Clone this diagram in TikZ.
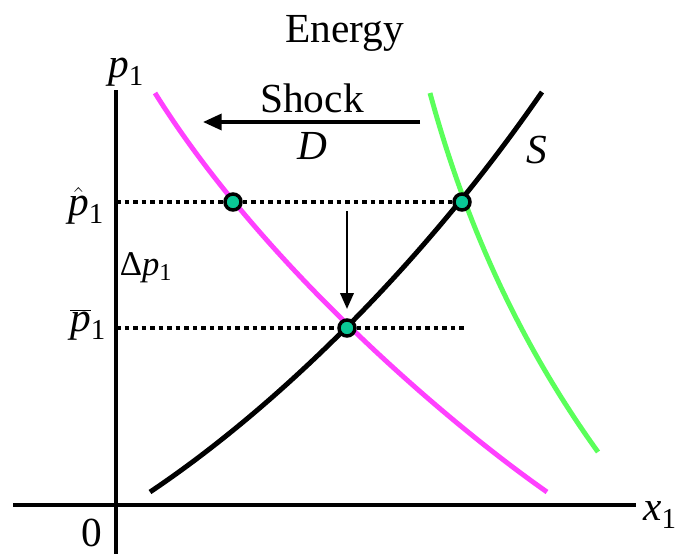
\documentclass[tikz,border=0pt]{standalone}
\usepackage{fontspec}
\setmainfont{Liberation Serif}
\usetikzlibrary{arrows.meta}
\definecolor{magc}{RGB}{255,64,255}
\definecolor{grnc}{RGB}{90,255,90}
\definecolor{dotc}{RGB}{10,200,150}
\newcommand{\ip}{\textit{p}}
\tikzset{
  axis/.style={line width=3pt},
  curve/.style={line width=3.7pt},
  guide/.style={line width=3pt, dash pattern=on 3.4pt off 3pt},
  eqdot/.style={circle, fill=dotc, draw=black, line width=2.6pt, minimum size=12pt, inner sep=0pt},
  lbl/.style={font=\fontsize{31}{36}\selectfont, inner sep=0pt},
  arr/.style={line width=2.6pt, -{Triangle[length=14pt,width=12pt]}},
  arrd/.style={line width=2pt, -{Triangle[length=12pt,width=10pt]}}
}
\begin{document}
\begin{tikzpicture}[x=0.75pt,y=-0.75pt]
\useasboundingbox (0,0) rectangle (676,554);
% axes
\coordinate (ytop) at (116,90);
\coordinate (ybot) at (116,554);
\coordinate (xl) at (13,505);
\coordinate (xr) at (636,505);
\draw[axis] (ytop) -- (ybot);
\draw[axis] (xl) -- (xr);
% curves
\draw[curve, magc] (155,93) .. controls (260,261) and (442,418.5) .. (547,492);
\draw[curve, grnc] (430,93) .. controls (462,211) and (513,334) .. (598,452);
\draw[curve, black] (150,492) .. controls (273,409.6) and (419,270) .. (542,92);
% equilibrium points
\node[eqdot] (e1) at (233,202) {};
\node[eqdot] (e2) at (462,202) {};
\node[eqdot] (e3) at (347,328) {};
\coordinate (a1) at (116,202);
\coordinate (a2) at (116,328);
\coordinate (r2) at (467,328);
\draw[guide] (a1) -- (e1);
\draw[guide] (e1) -- (e2);
\draw[guide] (a2) -- (e3);
\draw[guide] (e3) -- (r2);
% arrows
\coordinate (s1) at (420,122);
\coordinate (s2) at (203,122);
\draw[arr] (s1) -- (s2);
\coordinate (d1) at (347,211);
\coordinate (d2) at (347,309);
\draw[arrd] (d1) -- (d2);
% labels
\node[lbl] (energy) at (345,33) {Energy};
\node[lbl] (shock) at (312,98) {Shock};
\node[lbl] (dlab) at (312,146) {\textit{D}};
\node[lbl] (slab) at (537,150) {\textit{S}};
\node[lbl] (plab) at (126,72) {\ip\textsubscript{1}};
\node[lbl] (xlab) at (660,515) {\textit{x}\textsubscript{1}};
\node[lbl] (zero) at (92,533) {0};
\node[lbl] (phat) at (86,206) {$\hat{\ip}$\textsubscript{1}};
\node[lbl] (pbar) at (88,325) {$\overline{\ip}$\textsubscript{1}};
\node[lbl, font=\fontsize{26}{30}\selectfont] (dp) at (146,268) {Δ\ip\textsubscript{1}};
\end{tikzpicture}
\end{document}
